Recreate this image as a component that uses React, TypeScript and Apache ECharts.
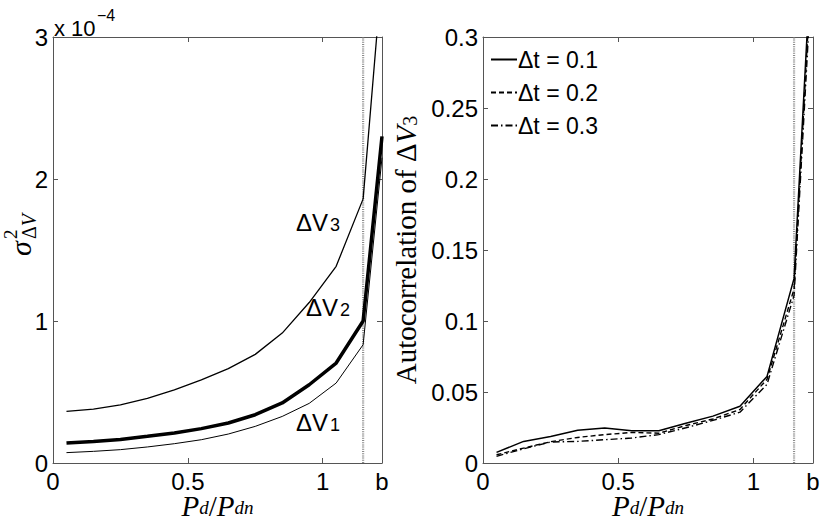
import React, { useEffect, useRef } from "react";
import * as echarts from "echarts";

// ---- data ----
const X = [0.05, 0.15, 0.25, 0.35, 0.45, 0.55, 0.65, 0.75, 0.85, 0.95, 1.05, 1.15, 1.22];
const XMAX = 1.22;
const XLINE = 1.15;
const DV1 = [0.073, 0.082, 0.094, 0.113, 0.136, 0.164, 0.204, 0.258, 0.328, 0.42, 0.563, 0.833, 2.15];
const DV2 = [0.141, 0.152, 0.166, 0.188, 0.211, 0.242, 0.282, 0.34, 0.423, 0.551, 0.704, 1.0, 2.3];
const DV3 = [0.363, 0.38, 0.41, 0.455, 0.515, 0.585, 0.665, 0.765, 0.915, 1.13, 1.385, 1.86, 3.45];
const AC1 = [0.0075, 0.0152, 0.0187, 0.023, 0.0246, 0.0227, 0.0227, 0.028, 0.033, 0.04, 0.061, 0.13, 0.38];
const AC2 = [0.0058, 0.0105, 0.015, 0.018, 0.02, 0.0215, 0.021, 0.0264, 0.031, 0.0377, 0.059, 0.1226, 0.37];
const AC3 = [0.0047, 0.01, 0.0148, 0.0152, 0.0164, 0.0176, 0.02, 0.0248, 0.03, 0.0358, 0.0554, 0.118, 0.36];
const LEGEND = ["Δt = 0.1", "Δt = 0.2", "Δt = 0.3"];
const X_TICKS = [0, 0.5, 1];
const X_LABELS = [0, 0.5, 1, XMAX];

const SANS = "Liberation Sans, Arial, Helvetica, sans-serif";
const SERIF = "Liberation Serif, Times New Roman, serif";
const AX = "#555";
const TICK_FS = 24;

const pair = (ys: number[]) => X.map((x, i) => [x, ys[i]]);

const xFmt = (v: number) => (Math.abs(v - XMAX) < 1e-6 ? "b" : String(v));

const xName = {
  name: "{i|P}{s|d}{n|/}{i|P}{s|dn}",
  nameLocation: "middle" as const,
  nameGap: 32,
  nameMoveOverlap: false,
  nameTextStyle: {
    color: "#000",
    rich: {
      i: { fontFamily: SERIF, fontStyle: "italic", fontSize: 29, lineHeight: 22, color: "#000" },
      n: { fontFamily: SERIF, fontSize: 29, lineHeight: 22, color: "#000" },
      s: { fontFamily: SERIF, fontStyle: "italic", fontSize: 19, lineHeight: 6, verticalAlign: "bottom", color: "#000" },
    },
  },
};

function makeX(grid: number, bottom: boolean) {
  return {
    gridIndex: grid,
    type: "value",
    min: 0,
    max: XMAX,
    position: bottom ? "bottom" : "top",
    axisLine: { show: true, onZero: false, lineStyle: { color: AX, width: 1 } },
    axisTick: { show: true, inside: true, length: 5, customValues: X_TICKS, lineStyle: { color: AX } },
    axisLabel: bottom
      ? { show: true, customValues: X_LABELS, formatter: xFmt, fontSize: TICK_FS, fontFamily: SANS, color: "#000", margin: 6 }
      : { show: false },
    splitLine: { show: false },
    ...(bottom ? xName : {}),
  };
}

function makeY(grid: number, left: boolean, max: number, interval: number, fmt: (v: number) => string) {
  return {
    gridIndex: grid,
    type: "value",
    min: 0,
    max,
    interval,
    position: left ? "left" : "right",
    axisLine: { show: true, onZero: false, lineStyle: { color: AX, width: 1 } },
    axisTick: { show: true, inside: true, length: 5, lineStyle: { color: AX } },
    axisLabel: left
      ? { show: true, formatter: fmt, fontSize: TICK_FS, fontFamily: SANS, color: "#000", margin: 5 }
      : { show: false },
    splitLine: { show: false },
  };
}

function line(name: string, data: number[][], xi: number, yi: number, width: number, type: any, color = "#000", z = 3) {
  return {
    type: "line",
    name,
    data,
    xAxisIndex: xi,
    yAxisIndex: yi,
    symbol: "none",
    showSymbol: false,
    silent: true,
    z,
    lineStyle: { color, width, type },
    itemStyle: { color },
    emphasis: { disabled: true },
  };
}

const subLabel = (x: number, y: number, sub: string) => ({
  type: "text",
  x,
  y,
  silent: true,
  style: {
    text: "{a|ΔV}{b|" + sub + "}",
    verticalAlign: "middle",
    align: "left",
    rich: {
      a: { fontFamily: SANS, fontSize: 24, lineHeight: 24, color: "#000" },
      b: { fontFamily: SANS, fontSize: 18, lineHeight: 6, verticalAlign: "bottom", padding: [0, 0, 0, 2], color: "#000" },
    },
  },
});

export default function App() {
  const ref = useRef<HTMLDivElement>(null);
  useEffect(() => {
    if (!ref.current) return;
    const chart = echarts.init(ref.current, null, { renderer: "svg" });
    const option: any = {
      animation: false,
      backgroundColor: "#fff",
      color: ["#000"],
      grid: [
        { left: 53, top: 37, width: 329, height: 426, containLabel: false, outerBoundsMode: "none" },
        { left: 483, top: 37, width: 330, height: 426, containLabel: false, outerBoundsMode: "none" },
      ],
      xAxis: [makeX(0, true), makeX(0, false), makeX(1, true), makeX(1, false)],
      yAxis: [
        makeY(0, true, 3, 1, (v) => String(v)),
        makeY(0, false, 3, 1, (v) => String(v)),
        {
          ...makeY(1, true, 0.3, 0.05, (v) => String(+v.toFixed(2))),
          name: "{r|Autocorrelation of Δ}{i|V}{s|3}",
          nameLocation: "middle",
          nameGap: 63,
          nameRotate: 90,
          nameMoveOverlap: false,
          nameTextStyle: {
            color: "#000",
            rich: {
              r: { fontFamily: SERIF, fontSize: 29, lineHeight: 29, color: "#000" },
              i: { fontFamily: SERIF, fontStyle: "italic", fontSize: 29, lineHeight: 29, color: "#000" },
              s: { fontFamily: SERIF, fontSize: 20, lineHeight: 12, verticalAlign: "bottom", color: "#000" },
            },
          },
        },
        makeY(1, false, 0.3, 0.05, (v) => String(v)),
      ],
      legend: {
        data: LEGEND,
        orient: "vertical",
        left: 490,
        top: 48,
        padding: 0,
        itemWidth: 26,
        itemHeight: 14,
        itemGap: 10,
        selectedMode: false,
        itemStyle: { opacity: 0 },
        textStyle: { fontFamily: SANS, fontSize: 23, color: "#000", padding: [0, 0, 0, -4] },
      },
      series: [
        line("dv1", pair(DV1), 0, 0, 1, "solid"),
        line("dv3", pair(DV3), 0, 0, 1.3, "solid"),
        line("dv2", pair(DV2), 0, 0, 3.5, "solid", "#000", 4),
        line("vline1", [[XLINE, 0], [XLINE, 3]], 0, 0, 2.2, [1, 1.2], "#8a8a8a", 2),
        line("vline2", [[XLINE, 0], [XLINE, 0.3]], 2, 2, 2.2, [1, 1.2], "#8a8a8a", 2),
        line(LEGEND[2], pair(AC3), 2, 2, 1.4, [7, 3, 1.5, 3]),
        line(LEGEND[1], pair(AC2), 2, 2, 1.4, [5, 3]),
        line(LEGEND[0], pair(AC1), 2, 2, 1.5, "solid"),
      ],
      graphic: [
        { type: "text", x: 54, y: 28, silent: true, style: { text: "x 10", fontFamily: SANS, fontSize: 22, fill: "#000", verticalAlign: "middle" } },
        { type: "text", x: 97, y: 15, silent: true, style: { text: "−4", fontFamily: SANS, fontSize: 16, fill: "#000", verticalAlign: "middle" } },
        {
          type: "group",
          x: 20,
          y: 256,
          rotation: Math.PI / 2,
          silent: true,
          children: [
            { type: "text", x: 0, y: 0, style: { text: "σ", fontFamily: SERIF, fontStyle: "italic", fontSize: 30, fill: "#000", verticalAlign: "middle" } },
            { type: "text", x: 17, y: -10, style: { text: "2", fontFamily: SERIF, fontSize: 19, fill: "#000", verticalAlign: "middle" } },
            {
              type: "text",
              x: 17,
              y: 9,
              style: {
                text: "{a|Δ}{b|V}",
                verticalAlign: "middle",
                rich: {
                  a: { fontFamily: SERIF, fontSize: 20, color: "#000" },
                  b: { fontFamily: SERIF, fontStyle: "italic", fontSize: 20, color: "#000" },
                },
              },
            },
          ],
        },
        subLabel(296, 222, "3"),
        subLabel(306, 307, "2"),
        subLabel(296, 422, "1"),
      ],
    };
    chart.setOption(option);
    return () => chart.dispose();
  }, []);
  return (
    <div
      ref={ref}
      style={{ position: "absolute", left: 0, top: 0, width: 830, height: 523, background: "#fff" }}
    />
  );
}
